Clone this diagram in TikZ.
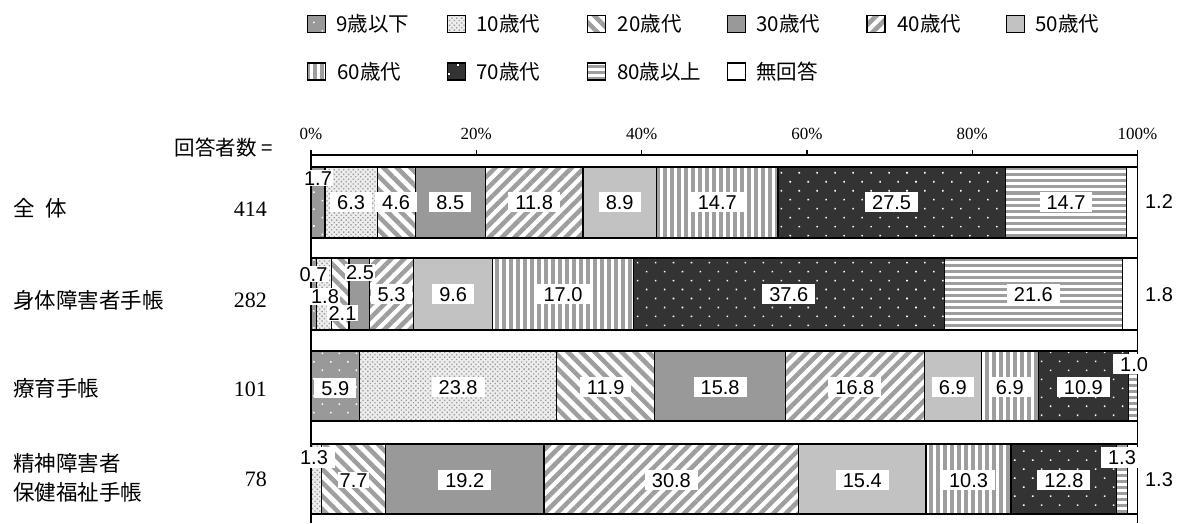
\documentclass[tikz,border=0pt]{standalone}
\usepackage{fontspec}
\setmainfont{Liberation Serif}
\newfontfamily\jpfont{Noto Sans CJK JP}
\newfontfamily\numfont{Liberation Sans}
\usepackage{tikz}
\usetikzlibrary{positioning,patterns.meta}
\definecolor{midgray}{gray}{0.6}
\definecolor{litegray}{gray}{0.76}
\definecolor{darkfill}{gray}{0.2}
\definecolor{stripe}{gray}{0.62}
\definecolor{dotgray}{gray}{0.6}
\definecolor{dotback}{gray}{0.93}
\tikzstyle{seg} = [draw=black, line width=1.2pt]
\tikzstyle{age9} = [seg, preaction={fill=midgray}, pattern={Dots[radius=1.1pt,distance=12pt,angle=45]}, pattern color=white]
\tikzstyle{age10} = [seg, preaction={fill=dotback}, pattern={Dots[radius=0.95pt,distance=3.4pt,angle=45]}, pattern color=dotgray]
\tikzstyle{age20} = [seg, preaction={fill=white}, pattern={Lines[angle=-45,distance=9.5pt,line width=4.5pt]}, pattern color=stripe]
\tikzstyle{age30} = [seg, fill=midgray]
\tikzstyle{age40} = [seg, preaction={fill=white}, pattern={Lines[angle=45,distance=9pt,line width=4.5pt]}, pattern color=stripe]
\tikzstyle{age50} = [seg, fill=litegray]
\tikzstyle{age60} = [seg, preaction={fill=white}, pattern={Lines[angle=90,distance=7pt,line width=3.2pt]}, pattern color=stripe]
\tikzstyle{age70} = [seg, preaction={fill=darkfill}, pattern={Dots[radius=1.1pt,distance=12.7pt,angle=45]}, pattern color=white]
\tikzstyle{age80} = [seg, preaction={fill=white}, pattern={Lines[angle=0,distance=6pt,line width=3pt]}, pattern color=stripe]
\tikzstyle{noans} = [seg, fill=white]
\tikzstyle{key} = [minimum width=18pt, minimum height=17pt, inner sep=0pt]
\tikzstyle{keytext} = [font=\jpfont\fontsize{20.5}{20.5}\selectfont, inner sep=0pt]
\tikzstyle{group} = [font=\jpfont\fontsize{21.5}{21.5}\selectfont, anchor=west, inner sep=0pt]
\tikzstyle{count} = [font=\fontsize{22}{22}\selectfont, anchor=east, inner sep=0pt]
\tikzstyle{tick} = [font=\fontsize{17}{17}\selectfont, inner sep=0pt]
\tikzstyle{val} = [fill=white, inner xsep=7pt, inner ysep=3pt, text height=14.5pt, text depth=0pt, font=\numfont\fontsize{20}{20}\selectfont]
\tikzstyle{tiny} = [val, inner xsep=1.5pt, inner ysep=1pt]
\tikzstyle{plain} = [font=\numfont\fontsize{20}{20}\selectfont, inner sep=0pt]
\tikzstyle{axis} = [line width=1.2pt]

\begin{document}
\begin{tikzpicture}[x=1pt,y=-1pt]
\useasboundingbox (0,0) rectangle (1180,523);
% legend
\node (k1) [key,age9] at (316.5,24) {};
\node (t1) [keytext,right=10pt of k1] {9歳以下};
\node (k2) [key,age10] at (456.5,24) {};
\node (t2) [keytext,right=10pt of k2] {10歳代};
\node (k3) [key,age20] at (596.5,24) {};
\node (t3) [keytext,right=10pt of k3] {20歳代};
\node (k4) [key,age30] at (736.5,24) {};
\node (t4) [keytext,right=10pt of k4] {30歳代};
\node (k5) [key,age40] at (876,24) {};
\node (t5) [keytext,right=10pt of k5] {40歳代};
\node (k6) [key,age50] at (1015.5,24) {};
\node (t6) [keytext,right=10pt of k6] {50歳代};
\node (k7) [key,age60] at (316.5,71.5) {};
\node (t7) [keytext,right=10pt of k7] {60歳代};
\node (k8) [key,age70] at (456.5,71.5) {};
\node (t8) [keytext,right=10pt of k8] {70歳代};
\node (k9) [key,age80] at (596.5,71.5) {};
\node (t9) [keytext,right=10pt of k9] {80歳以上};
\node (k10) [key,noans] at (736.5,71.5) {};
\node (t10) [keytext,right=10pt of k10] {無回答};
% row heads
\node (n0) [keytext,anchor=east] at (273,148) {回答者数 =};
\node (g1) [group] at (13,208) {全\hspace{0.5em}体};
\node (g2) [group] at (13,300) {身体障害者手帳};
\node (g3) [group] at (13,388) {療育手帳};
\node (g4a) [group] at (13,463) {精神障害者};
\node (g4b) [group] at (13,492) {保健福祉手帳};
\node (c1) [count] at (267,209.5) {414};
\node (c2) [count] at (267,300) {282};
\node (c3) [count] at (267,389) {101};
\node (c4) [count] at (267,479) {78};
\begin{scope}[shift={(311,0)},x=8.265pt]
% scale
\draw [axis] (0,150) -- (0,523) (100,150) -- (100,523) (0,155) -- (100,155);
\draw [axis] (20,150) -- (20,155) (40,150) -- (40,155) (60,150) -- (60,155) (80,150) -- (80,155);
\node (p0) [tick] at (0,133.5) {0\%};
\node (p20) [tick] at (20,133.5) {20\%};
\node (p40) [tick] at (40,133.5) {40\%};
\node (p60) [tick] at (60,133.5) {60\%};
\node (p80) [tick] at (80,133.5) {80\%};
\node (p100) [tick] at (100,133.5) {100\%};
% 全体
\draw [age9] (0,167) rectangle (1.7,238);
\draw [age10] (1.7,167) rectangle (8.0,238);
\draw [age20] (8.0,167) rectangle (12.6,238);
\draw [age30] (12.6,167) rectangle (21.1,238);
\draw [age40] (21.1,167) rectangle (32.9,238);
\draw [age50] (32.9,167) rectangle (41.8,238);
\draw [age60] (41.8,167) rectangle (56.5,238);
\draw [age70] (56.5,167) rectangle (84.0,238);
\draw [age80] (84.0,167) rectangle (98.7,238);
\draw [noans] (98.7,167) rectangle (100,238);
\node (a1) [tiny] at (0.85,178) {1.7};
\node (a2) [val] at (4.85,202) {6.3};
\node (a3) [val] at (10.3,202) {4.6};
\node (a4) [val] at (16.85,202) {8.5};
\node (a5) [val] at (27.0,202) {11.8};
\node (a6) [val] at (37.35,202) {8.9};
\node (a7) [val] at (49.15,202) {14.7};
\node (a8) [val] at (70.25,202) {27.5};
\node (a9) [val] at (91.35,202) {14.7};
% 身体障害者手帳
\draw [age9] (0,258) rectangle (0.7,330);
\draw [age10] (0.7,258) rectangle (2.5,330);
\draw [age20] (2.5,258) rectangle (4.6,330);
\draw [age30] (4.6,258) rectangle (7.1,330);
\draw [age40] (7.1,258) rectangle (12.4,330);
\draw [age50] (12.4,258) rectangle (22.0,330);
\draw [age60] (22.0,258) rectangle (39.0,330);
\draw [age70] (39.0,258) rectangle (76.6,330);
\draw [age80] (76.6,258) rectangle (98.2,330);
\draw [noans] (98.2,258) rectangle (100,330);
\node (b1) [tiny] at (0.30,274) {0.7};
\node (b2) [tiny] at (1.69,296.5) {1.8};
\node (b3) [tiny] at (3.81,313) {2.1};
\node (b4) [tiny] at (5.93,272.5) {2.5};
\node (b5) [val] at (9.75,294) {5.3};
\node (b6) [val] at (17.2,294) {9.6};
\node (b7) [val] at (30.5,294) {17.0};
\node (b8) [val] at (57.8,294) {37.6};
\node (b9) [val] at (87.4,294) {21.6};
% 療育手帳
\draw [age9] (0,351) rectangle (5.9,421);
\draw [age10] (5.9,351) rectangle (29.7,421);
\draw [age20] (29.7,351) rectangle (41.6,421);
\draw [age30] (41.6,351) rectangle (57.4,421);
\draw [age40] (57.4,351) rectangle (74.2,421);
\draw [age50] (74.2,351) rectangle (81.1,421);
\draw [age60] (81.1,351) rectangle (88.0,421);
\draw [age70] (88.0,351) rectangle (98.9,421);
\draw [age80] (98.9,351) rectangle (100,421);
\node (d1) [val] at (2.95,388) {5.9};
\node (d2) [val] at (17.8,387) {23.8};
\node (d3) [val] at (35.65,387) {11.9};
\node (d4) [val] at (49.5,387) {15.8};
\node (d5) [val] at (65.8,387) {16.8};
\node (d6) [val] at (77.65,387) {6.9};
\node (d7) [val] at (84.55,387) {6.9};
\node (d8) [val] at (93.45,387) {10.9};
\node (d9) [val] at (99.58,364) {1.0};
% 精神障害者保健福祉手帳
\draw [age10] (0,444) rectangle (1.3,514);
\draw [age20] (1.3,444) rectangle (9.0,514);
\draw [age30] (9.0,444) rectangle (28.2,514);
\draw [age40] (28.2,444) rectangle (59.0,514);
\draw [age50] (59.0,444) rectangle (74.4,514);
\draw [age60] (74.4,444) rectangle (84.7,514);
\draw [age70] (84.7,444) rectangle (97.5,514);
\draw [age80] (97.5,444) rectangle (98.8,514);
\draw [noans] (98.8,444) rectangle (100,514);
\node (e1) [val] at (0.36,457.5) {1.3};
\node (e2) [tiny] at (5.15,480) {7.7};
\node (e3) [val] at (18.6,480) {19.2};
\node (e4) [val] at (43.6,480) {30.8};
\node (e5) [val] at (66.7,480) {15.4};
\node (e6) [val] at (79.55,480) {10.3};
\node (e7) [val] at (91.1,480) {12.8};
\node (e8) [val] at (98.12,457.5) {1.3};
\end{scope}
% no answer, outside the bars
\node (r1) [plain] at (1159,202) {1.2};
\node (r2) [plain] at (1159,295) {1.8};
\node (r4) [plain] at (1159,480) {1.3};
\end{tikzpicture}
\end{document}
